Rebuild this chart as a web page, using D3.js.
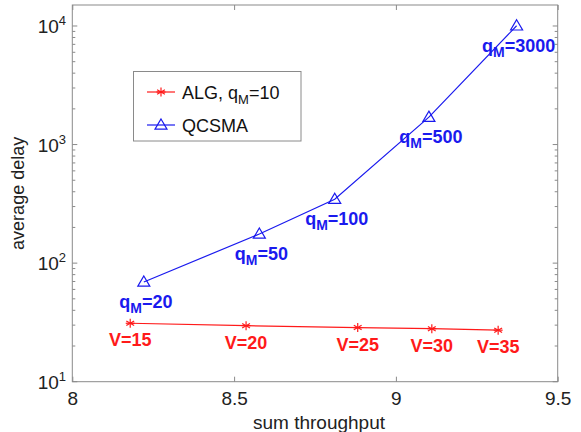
<!DOCTYPE html>
<html><head><meta charset="utf-8">
<script src="https://cdn.jsdelivr.net/npm/d3@7"></script>
<style>body{margin:0;background:#fff}svg{font-family:Arial,"Liberation Sans",sans-serif}</style>
</head><body><svg id="c" width="581" height="432"></svg>
<script>
const algX = [8.179, 8.537, 8.882, 9.111, 9.316];
const algY = [31.1, 29.7, 28.6, 28.0, 27.2];
const algLabels = ["15", "20", "25", "30", "35"];
const qX = [8.221, 8.578, 8.811, 9.102, 9.373];
const qY = [69.4, 176, 346, 1703, 10040];
const qLabels = ["20", "50", "100", "500", "3000"];
const xTicks = [8, 8.5, 9, 9.5];
const yTickExp = [1, 2, 3, 4];

const svg = d3.select("#c");
const L = 72.3, R = 557.7, T = 5, B = 381.7;
const x = d3.scaleLinear().domain([8, 9.5]).range([L, R]);
const y = d3.scaleLog().domain([10, Math.pow(10, 4.177)]).range([B, T]);
const frame = "#8a8a8a";
const red = "#ff1a1a", blue = "#1a1aee";

// frame
svg.append("rect").attr("x", L).attr("y", T).attr("width", R - L).attr("height", B - T)
  .attr("fill", "none").attr("stroke", frame).attr("stroke-width", 1);

// x ticks
const xAxB = svg.append("g").attr("transform", `translate(0,${B})`)
  .call(d3.axisBottom(x).tickValues(xTicks).tickFormat(d3.format("")).tickSizeInner(-5).tickSizeOuter(0));
xAxB.select(".domain").remove();
xAxB.selectAll("line").attr("stroke", frame);
xAxB.selectAll("text").attr("font-size", 19).attr("fill", "#222").attr("dy", null).attr("y", 23);
const xAxT = svg.append("g").attr("transform", `translate(0,${T})`)
  .call(d3.axisTop(x).tickValues(xTicks).tickFormat("").tickSizeInner(-5).tickSizeOuter(0));
xAxT.select(".domain").remove();
xAxT.selectAll("line").attr("stroke", frame);

// y ticks (major + minor, left & right)
const minor = [];
for (let e = 1; e <= 4; e++) for (let m = 2; m <= 9; m++) { const v = m * Math.pow(10, e); if (v <= y.domain()[1]) minor.push(v); }
const majors = yTickExp.map(e => Math.pow(10, e));
[[L, 1], [R, -1]].forEach(([px, dir]) => {
  svg.append("g").selectAll("line").data(majors).join("line")
    .attr("x1", px).attr("x2", px + dir * 5).attr("y1", d => y(d)).attr("y2", d => y(d)).attr("stroke", frame);
  svg.append("g").selectAll("line").data(minor).join("line")
    .attr("x1", px).attr("x2", px + dir * 3).attr("y1", d => y(d)).attr("y2", d => y(d)).attr("stroke", frame);
});
const yl = svg.append("g").selectAll("text").data(yTickExp).join("text")
  .attr("x", 66).attr("y", d => y(Math.pow(10, d)) + 7)
  .attr("text-anchor", "end").attr("font-size", 19).attr("fill", "#222");
yl.append("tspan").text("10");
yl.append("tspan").attr("font-size", 13).attr("dy", -8).text(d => d);

// axis titles
svg.append("text").attr("x", 319).attr("y", 429).attr("text-anchor", "middle")
  .attr("font-size", 19).attr("fill", "#222").text("sum throughput");
svg.append("text").attr("transform", `translate(24,${(T + B) / 2}) rotate(-90)`).attr("text-anchor", "middle")
  .attr("font-size", 18).attr("fill", "#222").text("average delay");

// lines
const line = d3.line().x(d => x(d[0])).y(d => y(d[1]));
const alg = algX.map((v, i) => [v, algY[i]]);
const qc = qX.map((v, i) => [v, qY[i]]);
svg.append("path").datum(alg).attr("d", line).attr("fill", "none").attr("stroke", red).attr("stroke-width", 1.2);
svg.append("path").datum(qc).attr("d", line).attr("fill", "none").attr("stroke", blue).attr("stroke-width", 1.2);

function star(g, cx, cy, col) {
  const r = 4.5;
  [0, 60, 120].forEach(a => {
    const t = a * Math.PI / 180;
    g.append("line").attr("x1", cx - r * Math.sin(t)).attr("y1", cy - r * Math.cos(t))
      .attr("x2", cx + r * Math.sin(t)).attr("y2", cy + r * Math.cos(t)).attr("stroke", col).attr("stroke-width", 1.2);
  });
  g.append("line").attr("x1", cx - r).attr("x2", cx + r).attr("y1", cy).attr("y2", cy).attr("stroke", col).attr("stroke-width", 1.2);
}
function tri(g, cx, cy, col) {
  const s = 6;
  g.append("path").attr("d", `M${cx},${cy - s} L${cx + s},${cy + s * 0.7} L${cx - s},${cy + s * 0.7} Z`)
    .attr("fill", "none").attr("stroke", col).attr("stroke-width", 1.2);
}
const mk = svg.append("g");
alg.forEach(d => star(mk, x(d[0]), y(d[1]), red));
qc.forEach(d => tri(mk, x(d[0]), y(d[1]), blue));

// annotations
svg.append("g").selectAll("text").data(alg).join("text")
  .attr("x", d => x(d[0])).attr("y", d => y(d[1]) + 23)
  .attr("text-anchor", "middle").attr("font-size", 18).attr("font-weight", "bold").attr("fill", red)
  .text((d, i) => "V=" + algLabels[i]);
const qt = svg.append("g").selectAll("text").data(qc).join("text")
  .attr("x", d => x(d[0]) + 2).attr("y", d => y(d[1]) + 26)
  .attr("text-anchor", "middle").attr("font-size", 18).attr("font-weight", "bold").attr("fill", blue);
qt.append("tspan").text("q");
qt.append("tspan").attr("font-size", 14).attr("dy", 5).text("M");
qt.append("tspan").attr("dy", -5).text((d, i) => "=" + qLabels[i]);

// legend
const lg = svg.append("g");
lg.append("rect").attr("x", 133.5).attr("y", 71.5).attr("width", 167.5).attr("height", 69.5)
  .attr("fill", "#fff").attr("stroke", frame);
lg.append("line").attr("x1", 147).attr("x2", 175).attr("y1", 92).attr("y2", 92).attr("stroke", red).attr("stroke-width", 1.2);
star(lg, 161, 92, red);
lg.append("line").attr("x1", 147).attr("x2", 175).attr("y1", 125).attr("y2", 125).attr("stroke", blue).attr("stroke-width", 1.2);
tri(lg, 161, 125, blue);
const t1 = lg.append("text").attr("x", 182).attr("y", 98.5).attr("font-size", 18).attr("fill", "#111");
t1.append("tspan").text("ALG, q");
t1.append("tspan").attr("font-size", 13).attr("dy", 5).text("M");
t1.append("tspan").attr("dy", -5).text("=10");
lg.append("text").attr("x", 182).attr("y", 131.5).attr("font-size", 18).attr("fill", "#111").text("QCSMA");
</script></body></html>
